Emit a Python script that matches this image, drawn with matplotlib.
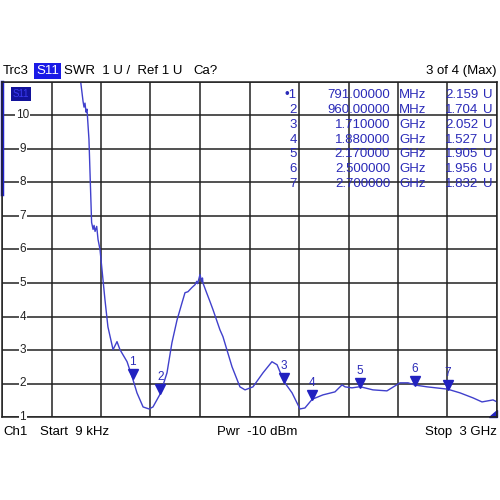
import matplotlib
matplotlib.use("Agg")
import matplotlib.pyplot as plt
import matplotlib.transforms as mtransforms
from matplotlib.patches import Polygon

plt.rcParams['font.family'] = ['Liberation Sans', 'DejaVu Sans']

# trace (GHz, SWR)
freq_ghz = [0.44, 0.477, 0.491, 0.497, 0.503, 0.509, 0.515, 0.527, 0.543, 0.552,
            0.558, 0.564, 0.574, 0.582, 0.594, 0.624, 0.642, 0.673, 0.697, 0.715,
            0.758, 0.791, 0.818, 0.855, 0.891, 0.915, 0.960, 1.000, 1.030, 1.061,
            1.091, 1.109, 1.127, 1.150, 1.170, 1.180, 1.185, 1.192, 1.200, 1.210,
            1.215, 1.218, 1.240, 1.261, 1.279, 1.300, 1.321,
            1.339, 1.394, 1.442, 1.473, 1.521, 1.582, 1.636, 1.667, 1.710,
            1.758, 1.806, 1.836, 1.880, 1.945, 2.018, 2.061, 2.079, 2.121, 2.170,
            2.248, 2.333, 2.412, 2.461, 2.500, 2.576, 2.700, 2.776, 2.855, 2.909,
            2.976, 3.0]
swr = [12.0, 11.0, 10.43, 10.25, 10.37, 10.10, 10.19, 9.29, 6.81, 6.60,
       6.72, 6.54, 6.69, 6.30, 6.00, 4.50, 3.69, 3.01, 3.25, 3.01,
       2.65, 2.16, 1.72, 1.30, 1.24, 1.30, 1.70, 2.32, 3.22, 3.90,
       4.41, 4.71, 4.74, 4.86, 4.95, 5.05, 4.98, 5.10, 5.25, 5.04,
       5.15, 5.00, 4.71, 4.44, 4.20, 3.90, 3.60,
       3.40, 2.50, 1.90, 1.81, 1.90, 2.32, 2.65, 2.56, 2.05,
       1.72, 1.24, 1.27, 1.53, 1.66, 1.75, 1.96, 1.90, 1.87, 1.905,
       1.81, 1.78, 2.02, 2.02, 1.956, 1.90, 1.832, 1.72, 1.57, 1.45,
       1.51, 1.45]

marker_ids = ["1", "2", "3", "4", "5", "6", "7"]
marker_freq = [0.791, 0.960, 1.710, 1.880, 2.170, 2.500, 2.700]
marker_swr = [2.159, 1.704, 2.052, 1.527, 1.905, 1.956, 1.832]

y_ticks = [1, 2, 3, 4, 5, 6, 7, 8, 9, 10]

trace_col = '#4040cc'
mark_col = '#2222c0'
text_col = '#2a2ab8'

fig = plt.figure(figsize=(5, 5), dpi=100)
ax = fig.add_axes([0.004, 0.166, 0.990, 0.670])
ax.set_xlim(0, 3.0)
ax.set_ylim(1, 11)
ax.set_xticks([i * 0.3 for i in range(11)])
ax.set_yticks(range(1, 12))
ax.tick_params(length=0, labelbottom=False, labelleft=False)
ax.grid(True, color='#222222', lw=1.1)
for s in ax.spines.values():
    s.set_color('#222222')
    s.set_linewidth(1.1)

ax.plot(freq_ghz, swr, color=trace_col, lw=1.0, clip_on=True)

# markers: triangle sits just above the trace, number above it
up = mtransforms.offset_copy(ax.transData, fig=fig, x=0, y=3, units='points')
ax.plot(marker_freq, marker_swr, 'v', color=mark_col, ms=6.5, transform=up, clip_on=False)
for mid, f, v in zip(marker_ids, marker_freq, marker_swr):
    ax.annotate(mid, (f, v), xytext=(0, 11.5), textcoords='offset points',
                ha='center', va='center', fontsize=8.5, color=text_col)

# y labels drawn on the grid lines
for t in y_ticks:
    ax.text(0.042, t, str(t), ha='center', va='center', fontsize=8.5, color='#222222',
            transform=ax.get_yaxis_transform(),
            bbox=dict(facecolor='white', edgecolor='none', pad=0.5))

# marker table
row0 = 0.96
dy = 0.044
for i, (mid, f, v) in enumerate(zip(marker_ids, marker_freq, marker_swr)):
    yy = row0 - i * dy
    if f < 1:
        fs, unit = f"{f * 1000:.5f}", "MHz"
    else:
        fs, unit = f"{f:.6f}", "GHz"
    lab = ("\u2022" + mid) if i == 0 else mid
    kw = dict(transform=ax.transAxes, fontsize=9.5, color=text_col, va='center')
    ax.text(0.596, yy, lab, ha='right', **kw)
    ax.text(0.784, yy, fs, ha='right', **kw)
    ax.text(0.802, yy, unit, ha='left', **kw)
    ax.text(0.962, yy, f"{v:.3f}", ha='right', **kw)
    ax.text(0.972, yy, "U", ha='left', **kw)

# S11 tag inside plot
ax.text(0.022, 0.963, "S11", transform=ax.transAxes, fontsize=7, color='#3a3af0',
        ha='left', va='center',
        bbox=dict(facecolor='#12129a', edgecolor='none', pad=1.5))

# scroll bar on left edge and small corner triangle
ax.plot([0, 0], [11, 7.65], color='#2020d0', lw=2.5, clip_on=False)
ax.add_patch(Polygon([[0.984, 0.0], [1.0, 0.0], [1.0, 0.022]], closed=True,
                     transform=ax.transAxes, color='#2020c0', clip_on=False))

# header and footer
hy = 0.858
fig.text(0.006, hy, "Trc3", fontsize=9.5, va='center')
fig.text(0.072, hy, "S11", fontsize=9.5, va='center', color='white',
         bbox=dict(facecolor='#1a1ae6', edgecolor='none', pad=1.2))
fig.text(0.128, hy, "SWR  1 U /  Ref 1 U", fontsize=9.5, va='center')
fig.text(0.386, hy, "Ca?", fontsize=9.5, va='center')
fig.text(0.994, hy, "3 of 4 (Max)", fontsize=9.5, va='center', ha='right')

fy = 0.136
fig.text(0.006, fy, "Ch1", fontsize=9.5, va='center')
fig.text(0.080, fy, "Start  9 kHz", fontsize=9.5, va='center')
fig.text(0.434, fy, "Pwr  -10 dBm", fontsize=9.5, va='center')
fig.text(0.994, fy, "Stop  3 GHz", fontsize=9.5, va='center', ha='right')

fig.savefig("out.png", dpi=100, facecolor='white')
